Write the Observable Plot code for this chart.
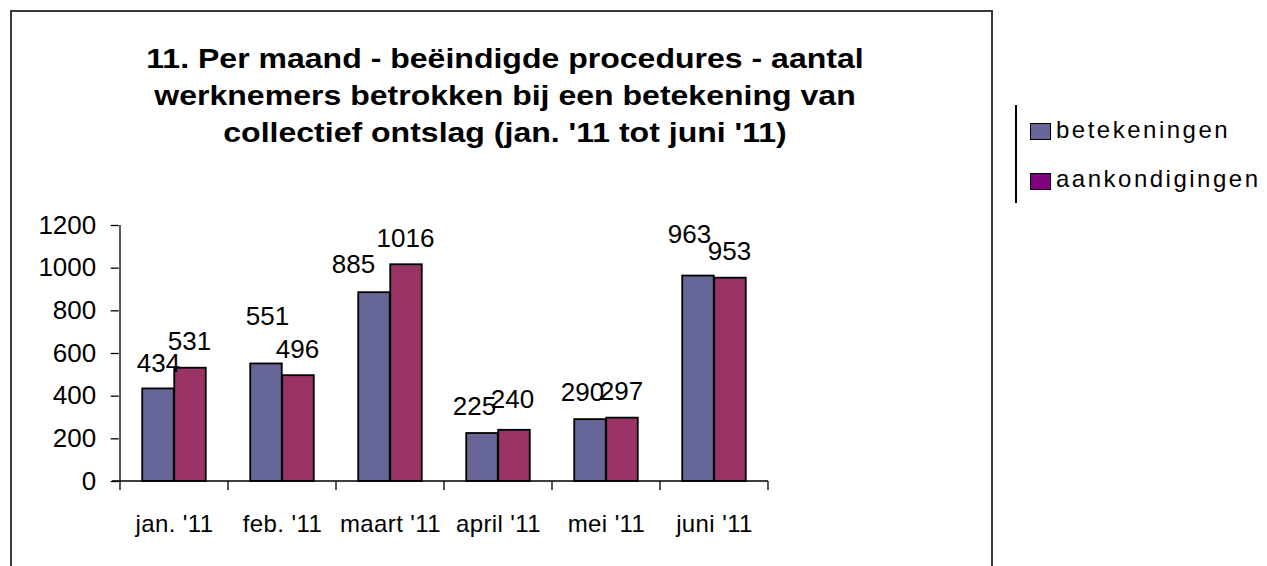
<!DOCTYPE html>
<html>
<head>
<meta charset="utf-8">
<script src="https://cdn.jsdelivr.net/npm/d3@7"></script>
<script src="https://cdn.jsdelivr.net/npm/@observablehq/plot@0.6"></script>
<style>
  html, body { margin: 0; padding: 0; background: #fff; }
  body { width: 1267px; height: 566px; overflow: hidden; position: relative; font-family: "Liberation Sans", Arial, sans-serif; }
  #frame { position: absolute; left: 10px; top: 10px; width: 983px; height: 600px; border: 2px solid #3a3a3a; box-sizing: border-box; }
  #title { position: absolute; left: 105px; width: 800px; top: 40px; text-align: center; font-weight: bold; font-size: 28px; line-height: 37px; color: #000; transform: scaleX(1.144); transform-origin: 50% 50%; }
  #chart { position: absolute; left: 0; top: 200px; }
  #chart svg g[aria-label="x-axis tick label"] text { letter-spacing: 0.4px; }
  #legend { position: absolute; left: 1015px; top: 105px; width: 250px; height: 98px; border-left: 2px solid #000; }
  .sw { position: absolute; left: 13px; width: 21px; height: 17px; border: 1.5px solid #000; box-sizing: border-box; }
  .lt { position: absolute; left: 39px; font-size: 24px; line-height: 24px; letter-spacing: 2.5px; white-space: nowrap; color: #000; }
</style>
</head>
<body>
<div id="frame"></div>
<div id="title">11. Per maand - beëindigde procedures - aantal<br>werknemers betrokken bij een betekening van<br>collectief ontslag (jan. '11 tot juni '11)</div>
<div id="chart"></div>
<div id="legend"></div>
<script>
const months = ["jan. '11", "feb. '11", "maart '11", "april '11", "mei '11", "juni '11"];
const betekeningen = [434, 551, 885, 225, 290, 963];
const aankondigingen = [531, 496, 1016, 240, 297, 953];
const yTicks = [0, 200, 400, 600, 800, 1000, 1200];
const seriesNames = ["betekeningen", "aankondigingen"];
const barColors = ["#666699", "#993366"];
const legendColors = ["#666699", "#800080"];

const rowsB = months.map((m, i) => ({month: m, value: betekeningen[i]}));
const rowsA = months.map((m, i) => ({month: m, value: aankondigingen[i]}));

const W = 800, H = 366;
const mL = 118.75, mR = 30.4, mT = 25, mB = 85;
const band = (W - mL - mR) / months.length;
const half = band / 2;
const barW = 32;
const inner = half - barW;

function axesLines(index, scales) {
  const x = scales.x, y = scales.y;
  const x0 = x(months[0]);
  const step = x.step ? x.step() : band;
  const y0 = y(0);
  const g = d3.create("svg:g").attr("stroke", "#000").attr("stroke-width", 1.3).attr("fill", "none");
  g.append("line").attr("x1", x0 - 8).attr("x2", x0 + step * months.length).attr("y1", y0).attr("y2", y0);
  g.append("line").attr("x1", x0).attr("x2", x0).attr("y1", y0).attr("y2", y(yTicks[yTicks.length - 1]));
  for (let i = 0; i <= months.length; i++) {
    const xx = x0 + i * step;
    g.append("line").attr("x1", xx).attr("x2", xx).attr("y1", y0).attr("y2", y0 + 9);
  }
  return g.node();
}

const labelStyle = {textAnchor: "middle", lineAnchor: "bottom", fontSize: 26, fill: "#000"};
const isV = (v) => (d) => d.value === v;
const txt = (d) => String(d.value);

const chart = Plot.plot({
  width: W, height: H,
  marginLeft: mL, marginRight: mR, marginTop: mT, marginBottom: mB,
  style: {fontFamily: '"Liberation Sans", Arial, sans-serif', background: "transparent", overflow: "visible"},
  x: {type: "band", domain: months, padding: 0, label: null},
  y: {domain: [0, 1200], label: null},
  marks: [
    Plot.axisY({ticks: yTicks, tickFormat: (d) => String(d), tickSize: 8, tickPadding: 15, fontSize: 26, label: null, stroke: "#000", strokeWidth: 1.3, color: "#000"}),
    Plot.axisX({tickSize: 0, tickPadding: 33, fontSize: 24, label: null, color: "#000"}),
    Plot.barY(rowsB, {x: "month", y: "value", fill: barColors[0], stroke: "#000", strokeWidth: 1.8, insetLeft: inner, insetRight: half}),
    Plot.barY(rowsA, {x: "month", y: "value", fill: barColors[1], stroke: "#000", strokeWidth: 1.8, insetLeft: half, insetRight: inner}),
    axesLines,
    Plot.text(rowsB.filter(d => ![551, 885, 963, 290, 225].includes(d.value)), {x: "month", y: "value", text: txt, dx: -half + inner + barW / 2, dy: -17, ...labelStyle}),
    Plot.text(rowsB.filter(isV(551)), {x: "month", y: "value", text: txt, dx: -half + inner + barW / 2 + 1, dy: -39, ...labelStyle}),
    Plot.text(rowsB.filter(isV(885)), {x: "month", y: "value", text: txt, dx: -half + inner + barW / 2 - 21, dy: -20, ...labelStyle}),
    Plot.text(rowsB.filter(isV(963)), {x: "month", y: "value", text: txt, dx: -half + inner + barW / 2 - 9, dy: -33, ...labelStyle}),
    Plot.text(rowsB.filter(d => d.value === 290 || d.value === 225), {x: "month", y: "value", text: txt, dx: -half + inner + barW / 2 - 8, dy: -19, ...labelStyle}),
    Plot.text(rowsA.filter(d => d.value !== 240), {x: "month", y: "value", text: txt, dx: barW / 2 - 1, dy: -18, ...labelStyle}),
    Plot.text(rowsA.filter(isV(240)), {x: "month", y: "value", text: txt, dx: barW / 2 - 2, dy: -22, ...labelStyle})
  ]
});
document.getElementById("chart").appendChild(chart);

const legend = document.getElementById("legend");
seriesNames.forEach((name, i) => {
  const sw = document.createElement("div");
  sw.className = "sw";
  sw.style.top = (17.5 + i * 50) + "px";
  sw.style.background = legendColors[i];
  legend.appendChild(sw);
  const t = document.createElement("div");
  t.className = "lt";
  t.style.top = (12.5 + i * 49.3) + "px";
  t.textContent = name;
  legend.appendChild(t);
});
</script>
</body>
</html>
